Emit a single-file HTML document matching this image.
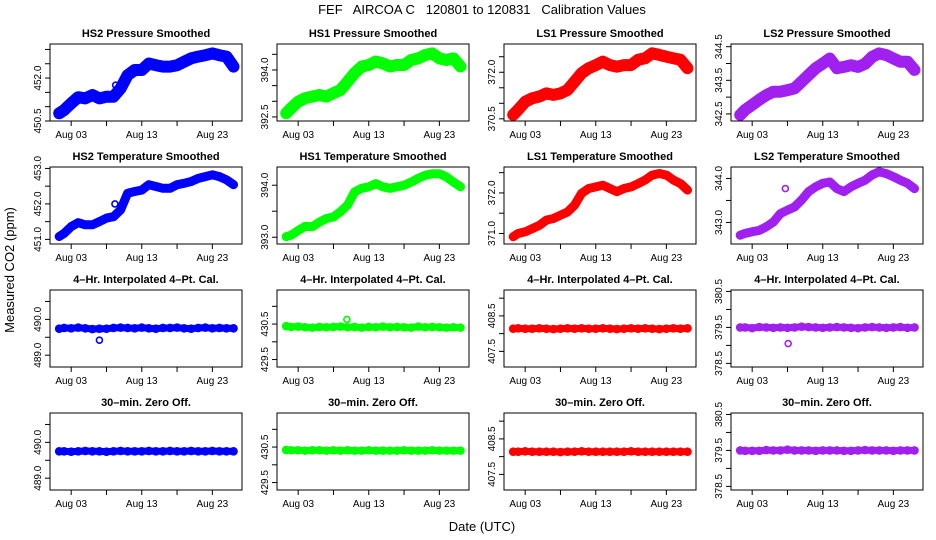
<!DOCTYPE html>
<html><head><meta charset="utf-8">
<style>
html,body{margin:0;padding:0;background:#fff;}
svg{display:block;font-family:"Liberation Sans",Arial,sans-serif;}
</style></head>
<body>
<svg id="chart" width="936" height="540" viewBox="0 0 936 540" xmlns="http://www.w3.org/2000/svg">
<text x="482" y="14" font-size="13" text-anchor="middle" style="white-space:pre" xml:space="preserve">FEF   AIRCOA C   120801 to 120831   Calibration Values</text>
<text transform="translate(14,270) rotate(-90)" font-size="13" text-anchor="middle">Measured CO2 (ppm)</text>
<text x="482" y="531" font-size="13" text-anchor="middle">Date (UTC)</text>
</svg>
<script>
// shared x data (day of August)
const days = [1.3,2,3,4,5,6,7,8,9,10,11,12,13,14,15,16,17,18,19,20,21,22,23,24,25,26];
const xTickDays = [3,8,13,18,23];
const xTickLabels = ["Aug 03","","Aug 13","","Aug 23"];

// series values
const hs2Pressure = [450.77,450.88,451.12,451.33,451.29,451.41,451.29,451.35,451.35,451.64,452.10,452.28,452.28,452.51,452.45,452.40,452.40,452.45,452.57,452.69,452.75,452.80,452.86,452.80,452.75,452.40];
const hs1Pressure = [392.62,392.78,392.99,393.10,393.15,393.20,393.15,393.26,393.36,393.63,393.90,394.11,394.16,394.27,394.21,394.11,394.16,394.16,394.32,394.37,394.48,394.53,394.37,394.32,394.37,394.11];
const ls1Pressure = [370.63,370.79,371.05,371.16,371.22,371.32,371.27,371.32,371.43,371.70,371.97,372.13,372.23,372.34,372.23,372.18,372.23,372.23,372.40,372.45,372.61,372.56,372.50,372.45,372.40,372.13];
const ls2Pressure = [342.47,342.62,342.77,342.92,343.06,343.16,343.16,343.21,343.26,343.46,343.66,343.86,344.00,344.15,343.86,343.90,343.95,343.90,343.99,344.20,344.30,344.25,344.15,344.05,344.05,343.81];
const hs2Temp = [451.08,451.17,451.36,451.47,451.41,451.41,451.50,451.60,451.64,451.83,452.30,452.35,452.39,452.54,452.49,452.44,452.44,452.54,452.58,452.63,452.72,452.77,452.82,452.77,452.68,452.54];
const hs1Temp = [393.01,393.04,393.13,393.21,393.20,393.29,393.36,393.39,393.49,393.62,393.87,393.94,393.97,394.03,393.97,393.94,393.97,394.00,394.06,394.13,394.19,394.22,394.22,394.16,394.06,393.97];
const ls1Temp = [370.92,371.00,371.04,371.12,371.20,371.33,371.37,371.45,371.53,371.70,371.99,372.11,372.15,372.19,372.11,372.03,372.11,372.15,372.23,372.32,372.44,372.48,372.44,372.32,372.23,372.07];
const ls2Temp = [342.71,342.75,342.79,342.82,342.90,343.01,343.20,343.28,343.35,343.51,343.70,343.81,343.89,343.92,343.77,343.70,343.81,343.89,343.96,344.08,344.15,344.11,344.04,343.96,343.89,343.77];
const hs2Interp = [489.74,489.76,489.75,489.77,489.75,489.73,489.74,489.74,489.76,489.77,489.76,489.75,489.77,489.75,489.74,489.76,489.76,489.77,489.75,489.74,489.76,489.77,489.75,489.76,489.75,489.75];
const hs1Interp = [430.44,430.42,430.43,430.41,430.40,430.42,430.41,430.42,430.43,430.41,430.42,430.40,430.42,430.41,430.43,430.41,430.42,430.41,430.40,430.43,430.41,430.42,430.41,430.40,430.41,430.40];
const ls1Interp = [408.14,408.15,408.14,408.14,408.15,408.14,408.13,408.14,408.15,408.14,408.15,408.14,408.14,408.15,408.14,408.13,408.14,408.15,408.14,408.15,408.14,408.13,408.14,408.15,408.14,408.15];
const ls2Interp = [379.50,379.50,379.48,379.51,379.50,379.49,379.50,379.49,379.50,379.52,379.51,379.50,379.49,379.50,379.51,379.50,379.49,379.48,379.50,379.51,379.50,379.49,379.50,379.51,379.49,379.50];
const hs2Zero = [489.75,489.75,489.74,489.75,489.76,489.75,489.75,489.74,489.75,489.76,489.75,489.75,489.75,489.76,489.75,489.75,489.76,489.75,489.75,489.76,489.75,489.75,489.76,489.75,489.75,489.75];
const hs1Zero = [430.42,430.41,430.41,430.40,430.41,430.41,430.40,430.41,430.40,430.41,430.40,430.40,430.41,430.40,430.40,430.40,430.40,430.41,430.40,430.40,430.40,430.41,430.40,430.40,430.40,430.40];
const ls1Zero = [408.14,408.14,408.15,408.14,408.14,408.14,408.14,408.13,408.14,408.14,408.15,408.14,408.14,408.14,408.14,408.14,408.14,408.15,408.14,408.14,408.14,408.14,408.14,408.14,408.14,408.14];
const ls2Zero = [379.50,379.49,379.49,379.49,379.51,379.50,379.50,379.52,379.50,379.50,379.50,379.49,379.50,379.50,379.50,379.49,379.49,379.50,379.51,379.50,379.50,379.50,379.49,379.50,379.50,379.50];

// outliers
const hs2PressOutDays = [9.3], hs2PressOutVals = [451.75];
const hs2TempOutDays = [9.2], hs2TempOutVals = [452.0];
const ls2TempOutDays = [7.7], ls2TempOutVals = [343.77];
const hs2InterpOutDays = [7.0], hs2InterpOutVals = [489.42];
const hs1InterpOutDays = [9.9], hs1InterpOutVals = [430.63];
const ls2InterpOutDays = [8.1], ls2InterpOutVals = [379.05];

// y tick values
const ticksP1=[450.5,451,451.5,452,452.5,453], labP1=[450.5,452.0];
const ticksP2=[392.5,393,393.5,394,394.5], labP2=[392.5,394.0];
const ticksP3=[370.5,371,371.5,372,372.5], labP3=[370.5,372.0];
const ticksP4=[342.5,343,343.5,344,344.5], labP4=[342.5,343.5,344.5];
const ticksP5=[451,451.5,452,452.5,453], labP5=[451.0,452.0,453.0];
const ticksP6=[393,393.5,394], labP6=[393.0,394.0];
const ticksP7=[371,371.5,372,372.5], labP7=[371.0,372.0];
const ticksP8=[343,343.5,344], labP8=[343.0,344.0];
const ticksP9=[489,489.5,490,490.5], labP9=[489.0,490.0];
const ticksP10=[429.5,430,430.5,431], labP10=[429.5,430.5];
const ticksP11=[407.5,408,408.5,409], labP11=[407.5,408.5];
const ticksP12=[378.5,379,379.5,380,380.5], labP12=[378.5,379.5,380.5];

const BLUE="#0000ff", GREEN="#00ff00", RED="#ff0000", PURPLE="#a020f0";
const colLeft=[50,277,504,731], rowTop=[44,167,290,413], BW=192, BH=77;
const xDomain=[0,27.2];
const bandWidth=[12,9,7,7];

const panels=[
 {r:0,c:0,t:"HS2 Pressure Smoothed",col:BLUE,v:hs2Pressure,yd:[450.50,453.19],tk:ticksP1,lb:labP1,od:hs2PressOutDays,ov:hs2PressOutVals,n:"hs2-pressure"},
 {r:0,c:1,t:"HS1 Pressure Smoothed",col:GREEN,v:hs1Pressure,yd:[392.37,394.83],tk:ticksP2,lb:labP2,n:"hs1-pressure"},
 {r:0,c:2,t:"LS1 Pressure Smoothed",col:RED,v:ls1Pressure,yd:[370.43,372.91],tk:ticksP3,lb:labP3,n:"ls1-pressure"},
 {r:0,c:3,t:"LS2 Pressure Smoothed",col:PURPLE,v:ls2Pressure,yd:[342.29,344.58],tk:ticksP4,lb:labP4,n:"ls2-pressure"},
 {r:1,c:0,t:"HS2 Temperature Smoothed",col:BLUE,v:hs2Temp,yd:[450.87,453.04],tk:ticksP5,lb:labP5,od:hs2TempOutDays,ov:hs2TempOutVals,n:"hs2-temperature"},
 {r:1,c:1,t:"HS1 Temperature Smoothed",col:GREEN,v:hs1Temp,yd:[392.87,394.35],tk:ticksP6,lb:labP6,n:"hs1-temperature"},
 {r:1,c:2,t:"LS1 Temperature Smoothed",col:RED,v:ls1Temp,yd:[370.74,372.64],tk:ticksP7,lb:labP7,n:"ls1-temperature"},
 {r:1,c:3,t:"LS2 Temperature Smoothed",col:PURPLE,v:ls2Temp,yd:[342.51,344.26],tk:ticksP8,lb:labP8,od:ls2TempOutDays,ov:ls2TempOutVals,n:"ls2-temperature"},
 {r:2,c:0,t:"4\u2013Hr. Interpolated 4\u2013Pt. Cal.",col:BLUE,v:hs2Interp,yd:[488.67,490.82],tk:ticksP9,lb:labP9,od:hs2InterpOutDays,ov:hs2InterpOutVals,n:"hs2-interpolated"},
 {r:2,c:1,t:"4\u2013Hr. Interpolated 4\u2013Pt. Cal.",col:GREEN,v:hs1Interp,yd:[429.29,431.46],tk:ticksP10,lb:labP10,od:hs1InterpOutDays,ov:hs1InterpOutVals,n:"hs1-interpolated"},
 {r:2,c:2,t:"4\u2013Hr. Interpolated 4\u2013Pt. Cal.",col:RED,v:ls1Interp,yd:[407.06,409.23],tk:ticksP11,lb:labP11,n:"ls1-interpolated"},
 {r:2,c:3,t:"4\u2013Hr. Interpolated 4\u2013Pt. Cal.",col:PURPLE,v:ls2Interp,yd:[378.40,380.54],tk:ticksP12,lb:labP12,od:ls2InterpOutDays,ov:ls2InterpOutVals,n:"ls2-interpolated"},
 {r:3,c:0,t:"30\u2013min. Zero Off.",col:BLUE,v:hs2Zero,yd:[488.67,490.82],tk:ticksP9,lb:labP9,n:"hs2-zero-offset"},
 {r:3,c:1,t:"30\u2013min. Zero Off.",col:GREEN,v:hs1Zero,yd:[429.29,431.46],tk:ticksP10,lb:labP10,n:"hs1-zero-offset"},
 {r:3,c:2,t:"30\u2013min. Zero Off.",col:RED,v:ls1Zero,yd:[407.06,409.23],tk:ticksP11,lb:labP11,n:"ls1-zero-offset"},
 {r:3,c:3,t:"30\u2013min. Zero Off.",col:PURPLE,v:ls2Zero,yd:[378.40,380.54],tk:ticksP12,lb:labP12,n:"ls2-zero-offset"}
];

const NS="http://www.w3.org/2000/svg";
const svg=document.getElementById("chart");
function mk(tag,attrs,parent){const e=document.createElementNS(NS,tag);for(const k in attrs)e.setAttribute(k,attrs[k]);(parent||svg).appendChild(e);return e;}

panels.forEach(p=>{
  const L=colLeft[p.c], T=rowTop[p.r];
  const xs=d=>L+(d-xDomain[0])/(xDomain[1]-xDomain[0])*BW;
  const ys=v=>T+BH-(v-p.yd[0])/(p.yd[1]-p.yd[0])*BH;
  const g=mk("g",{});
  
  
  const title=mk("text",{x:L+BW/2,y:T-7,"font-size":"11","font-weight":"bold","text-anchor":"middle"},g);
  title.textContent=p.t;
  
  
  const thick = bandWidth[p.r];
  const pts=p.v.map((v,i)=>xs(days[i]).toFixed(1)+","+ys(v).toFixed(1)).join(" ");
  const band=mk("polyline",{points:pts,fill:"none",stroke:p.col,"stroke-width":thick,"stroke-linejoin":"round","stroke-linecap":"round"},g);
  
  
  p.v.forEach((v,i)=>{
    const c=mk("circle",{cx:xs(days[i]),cy:ys(v),r:3.5,fill:"none",stroke:p.col,"stroke-width":1.6},g);
    
    
  });
  if(p.od){p.od.forEach((d,i)=>{
    const c=mk("circle",{cx:xs(d),cy:ys(p.ov[i]),r:3,fill:"none",stroke:p.col,"stroke-width":1.6},g);
    
    
  });}
  const box=mk("rect",{x:L,y:T,width:BW,height:BH,fill:"none",stroke:"#000","stroke-width":1},g);
  
  
  xTickDays.forEach((d,i)=>{
    const x=xs(d);
    const tk=mk("line",{x1:x,y1:T+BH,x2:x,y2:T+BH+5,stroke:"#000"},g);
    
    
    if(xTickLabels[i]){
      const tl=mk("text",{x:x,y:T+BH+17,"font-size":"10","text-anchor":"middle"},g);
      tl.textContent=xTickLabels[i];
      
      
    }
  });
  p.tk.forEach(v=>{
    const y=ys(v);
    const tk=mk("line",{x1:L-5,y1:y,x2:L,y2:y,stroke:"#000"},g);
    
    
  });
  p.lb.forEach(v=>{
    const y=ys(v);
    const tl=mk("text",{transform:"translate("+(L-9)+","+y+") rotate(-90)","font-size":"10","text-anchor":"middle"},g);
    tl.textContent=v.toFixed(1);
    
    
  });
});
</script>
</body></html>
